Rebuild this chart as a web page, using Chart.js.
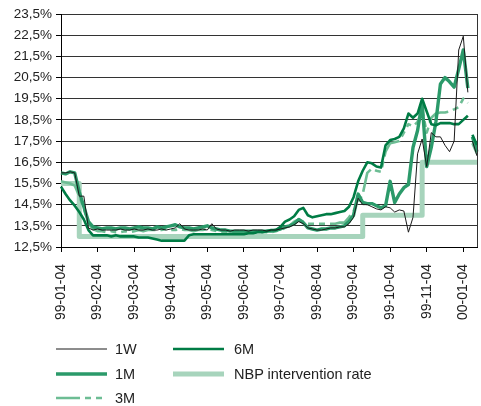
<!DOCTYPE html>
<html>
<head>
<meta charset="utf-8">
<script src="https://cdn.jsdelivr.net/npm/chart.js@4.4.1/dist/chart.umd.min.js"></script>
<style>
  html, body { margin: 0; padding: 0; background: #fff; }
  #wrap { position: relative; width: 481px; height: 406px; }
  #legend { position: absolute; left: 0; top: 0; width: 481px; height: 406px; pointer-events: none;
            font: 14.5px "Liberation Sans", Arial, sans-serif; color: #222; }
  .item { position: absolute; display: flex; align-items: center; height: 20px; white-space: nowrap; }
  .item svg { margin-right: 8px; }
</style>
</head>
<body>
<div id="wrap">
  <canvas id="myChart" width="481" height="406"></canvas>
  <div id="legend"></div>
</div>
<script>
(() => {
	'use strict'

	// tick labels on the x axis (one every 8 data points)
	const dates = ['99-01-04', '99-02-04', '99-03-04', '99-04-04', '99-05-04', '99-06-04',
		'99-07-04', '99-08-04', '99-09-04', '99-10-04', '99-11-04', '00-01-04'];
	const yTicks = [12.5, 13.5, 14.5, 15.5, 16.5, 17.5, 18.5, 19.5, 20.5, 21.5, 22.5, 23.5];

	// series values
	const w1 = [
		16.0, 16.0, 16.05, 16.0, 14.9, 14.9, 13.4, 13.3, 13.35, 13.3,
		13.3, 13.3, 13.3, 13.35, 13.3, 13.3, 13.35, 13.3, 13.3, 13.35,
		13.3, 13.3, 13.35, 13.3, 13.35, 13.4, 13.6, 13.35, 13.3, 13.3,
		13.3, 13.35, 13.3, 13.6, 13.35, 13.3, 13.3, 13.25, 13.3, 13.3,
		13.3, 13.25, 13.3, 13.3, 13.3, 13.25, 13.3, 13.3, 13.35, 13.4,
		13.45, 13.55, 13.7, 13.6, 13.4, 13.35, 13.3, 13.3, 13.35, 13.4,
		13.4, 13.45, 13.45, 13.6, 13.9, 14.8, 14.5, 14.5, 14.4, 14.3,
		14.25, 14.4, 14.35, 14.15, 14.25, 14.2, 13.2, 13.9, 16.9, 17.6,
		16.3, 17.9, 17.7, 17.7, 17.3, 17.0, 17.5, 21.8, 22.45, 19.8,
		17.5, 16.8
	];
	const m1 = [
		16.0, 15.95, 16.05, 16.0, 15.1, 14.4, 13.7, 13.45, 13.4, 13.35,
		13.4, 13.4, 13.35, 13.4, 13.4, 13.35, 13.4, 13.45, 13.4, 13.4,
		13.35, 13.45, 13.4, 13.45, 13.5, 13.55, 13.45, 13.4, 13.4, 13.35,
		13.4, 13.45, 13.5, 13.4, 13.35, 13.3, 13.3, 13.25, 13.25, 13.25,
		13.25, 13.25, 13.25, 13.25, 13.25, 13.25, 13.25, 13.3, 13.35, 13.45,
		13.5, 13.6, 13.8, 13.65, 13.4, 13.35, 13.3, 13.35, 13.35, 13.4,
		13.4, 13.45, 13.5, 13.7, 14.0, 15.0, 14.6, 14.55, 14.55, 14.45,
		14.35, 14.45, 15.6, 14.6, 15.0, 15.3, 15.45, 17.2, 18.0, 19.3,
		16.3, 17.2, 18.4, 20.2, 20.5, 20.3, 20.05, 20.9, 21.8, 20.0,
		17.7, 17.0
	];
	const m3 = [
		15.6, 15.55, 15.5, 15.4, 14.9, 14.3, 13.6, 13.35, 13.25, 13.25,
		13.2, 13.25, 13.2, 13.2, 13.25, 13.2, 13.25, 13.3, 13.25, 13.3,
		13.3, 13.3, 13.3, 13.35, 13.3, 13.3, 13.35, 13.3, 13.3, 13.25,
		13.3, 13.3, 13.35, 13.3, 13.25, 13.2, 13.2, 13.2, 13.2, 13.2,
		13.2, 13.2, 13.2, 13.2, 13.2, 13.2, 13.2, 13.25, 13.3, 13.4,
		13.5, 13.7, 13.8, 13.7, 13.6, 13.6, 13.6, 13.6, 13.6, 13.6,
		13.6, 13.65, 13.65, 13.9, 14.2, 14.6, 15.0, 16.0, 16.2, 16.1,
		16.05, 17.0, 17.4, 17.45, 17.5, 17.9, 18.3, 18.2, 18.4, 19.0,
		17.9, 18.6, 18.8, 18.85, 18.85, 18.9, 19.0, 19.1, 19.5, 19.3,
		17.4, 16.9
	];
	const m6 = [
		15.35, 15.0, 14.7, 14.45, 14.15, 13.8, 13.3, 13.05, 13.05, 13.05,
		13.05, 13.0, 13.05, 13.0, 13.0, 13.0, 13.0, 12.95, 12.95, 12.95,
		12.9, 12.85, 12.8, 12.8, 12.8, 12.8, 12.8, 12.8, 13.05, 13.1,
		13.1, 13.1, 13.1, 13.1, 13.1, 13.1, 13.1, 13.1, 13.1, 13.1,
		13.1, 13.15, 13.15, 13.2, 13.2, 13.25, 13.3, 13.3, 13.45, 13.7,
		13.8, 13.95, 14.25, 14.35, 14.0, 13.9, 13.95, 14.0, 14.05, 14.05,
		14.1, 14.15, 14.2, 14.4, 14.85, 15.6, 16.1, 16.5, 16.45, 16.3,
		16.25, 17.3, 17.55, 17.6, 17.7, 18.1, 18.8, 18.6, 18.8, 19.5,
		18.9, 18.3, 18.25, 18.35, 18.35, 18.35, 18.3, 18.3, 18.5, 18.7,
		17.8, 17.3
	];
	const nbp = [
		15.5, 15.5, 15.5, 15.5, 13.0, 13.0, 13.0, 13.0, 13.0, 13.0,
		13.0, 13.0, 13.0, 13.0, 13.0, 13.0, 13.0, 13.0, 13.0, 13.0,
		13.0, 13.0, 13.0, 13.0, 13.0, 13.0, 13.0, 13.0, 13.0, 13.0,
		13.0, 13.0, 13.0, 13.0, 13.0, 13.0, 13.0, 13.0, 13.0, 13.0,
		13.0, 13.0, 13.0, 13.0, 13.0, 13.0, 13.0, 13.0, 13.0, 13.0,
		13.0, 13.0, 13.0, 13.0, 13.0, 13.0, 13.0, 13.0, 13.0, 13.0,
		13.0, 13.0, 13.0, 13.0, 13.0, 13.0, 14.0, 14.0, 14.0, 14.0,
		14.0, 14.0, 14.0, 14.0, 14.0, 14.0, 14.0, 14.0, 14.0, 16.5,
		16.5, 16.5, 16.5, 16.5, 16.5, 16.5, 16.5, 16.5, 16.5, 16.5,
		16.5, 16.5
	];

	// categories: one per data point, labelled every 8th
	const categories = w1.map((_, i) => (i % 8 === 0 ? dates[i / 8] : ''));

	// no quotes between these two points (holiday break)
	const gapAfter = 89;
	const gap = { borderColor: (c) => (c.p0DataIndex === gapAfter ? 'rgba(0,0,0,0)' : undefined) };

	const datasets = [
		{ label: '1W', data: w1, borderColor: '#1a1a1a', borderWidth: 1, segment: gap },
		{ label: '6M', data: m6, borderColor: '#007c45', borderWidth: 2.6, segment: gap },
		{ label: '1M', data: m1, borderColor: '#2b9a6a', borderWidth: 3.4, segment: gap },
		{ label: '3M', data: m3, borderColor: '#6dbd94', borderWidth: 2.6, borderDash: [24, 5, 6, 5, 6, 5], segment: gap },
		{ label: 'NBP intervention rate', data: nbp, borderColor: '#a7d4bc', borderWidth: 5, stepped: 'before' }
	];

	const frame = {
		id: 'frame',
		afterDraw(chart) {
			const { ctx, chartArea: a } = chart;
			ctx.save();
			ctx.strokeStyle = '#333';
			ctx.lineWidth = 1;
			ctx.beginPath();
			ctx.moveTo(Math.round(a.right) + 0.5, a.top);
			ctx.lineTo(Math.round(a.right) + 0.5, a.bottom);
			ctx.stroke();
			ctx.restore();
		}
	};

	const font = { family: '"Liberation Sans", Arial, sans-serif' };

	const ctx = document.getElementById('myChart');
	// eslint-disable-next-line no-unused-vars
	const myChart = new Chart(ctx, {
		type: 'line',
		data: { labels: categories, datasets },
		options: {
			responsive: false,
			animation: false,
			layout: { padding: { top: 14, right: 4, left: 0, bottom: 0 } },
			elements: {
				point: { radius: 0 },
				line: { tension: 0, borderJoinStyle: 'round', fill: false }
			},
			plugins: {
				legend: { display: false },
				tooltip: { enabled: false }
			},
			scales: {
				x: {
					grid: {
						drawOnChartArea: false,
						tickLength: 5,
						tickColor: (c) => (categories[c.index] ? '#000' : 'rgba(0,0,0,0)')
					},
					border: { color: '#000', width: 1 },
					ticks: {
						autoSkip: false,
						maxRotation: 90,
						minRotation: 90,
						padding: 12,
						color: '#222',
						font: { ...font, size: 14 },
						callback: (v, i) => categories[i]
					},
					afterFit: (s) => {
						s.height = 159;
						s.paddingLeft = 0;
						s.paddingRight = 0;
					}
				},
				y: {
					min: 12.5,
					max: 23.5,
					afterBuildTicks: (s) => { s.ticks = yTicks.map((value) => ({ value })); },
					grid: { color: '#333', lineWidth: 1, tickLength: 5, tickColor: '#000' },
					border: { color: '#000', width: 1 },
					ticks: {
						padding: 4,
						color: '#222',
						font: { ...font, size: 13.5 },
						callback: (v) => v.toFixed(1).replace('.', ',') + '%'
					},
					afterFit: (s) => { s.width = 61; }
				}
			}
		},
		plugins: [frame]
	});

	// legend below the chart, two columns like the original
	const legendPos = {
		'1W': [56, 339], '1M': [56, 364], '3M': [56, 388],
		'6M': [173, 339], 'NBP intervention rate': [173, 364]
	};
	const legend = document.getElementById('legend');
	datasets.forEach((ds) => {
		const [left, top] = legendPos[ds.label];
		const item = document.createElement('div');
		item.className = 'item';
		item.style.left = left + 'px';
		item.style.top = top + 'px';
		const dash = ds.borderDash ? ` stroke-dasharray="${ds.borderDash.join(' ')}"` : '';
		item.innerHTML = `<svg width="51" height="10"><line x1="0" y1="5" x2="51" y2="5" stroke="${ds.borderColor}" stroke-width="${ds.borderWidth}"${dash}/></svg><span>${ds.label}</span>`;
		if (left > 100) item.querySelector('svg').style.marginRight = '10px';
		legend.appendChild(item);
	});
})();
</script>
</body>
</html>
